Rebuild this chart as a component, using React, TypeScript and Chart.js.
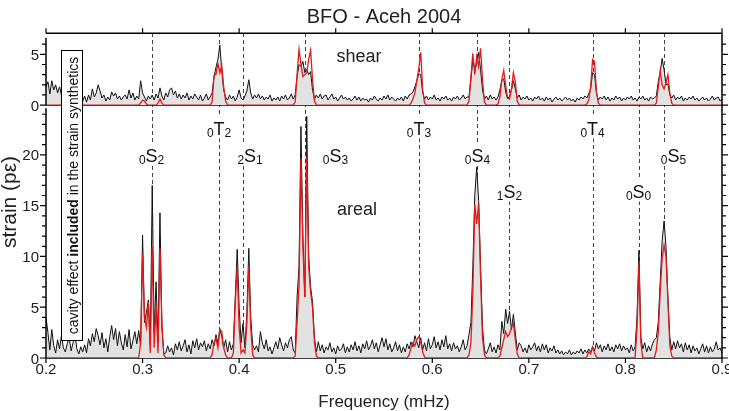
import { useEffect, useRef } from "react";
import { Chart, registerables } from "chart.js";

Chart.register(...registerables);

// Spectra are sampled on a regular frequency grid (mHz)
const FREQ_START = 0.2;
const FREQ_STEP = 0.002;

const xTicks = [0.2, 0.3, 0.4, 0.5, 0.6, 0.7, 0.8, 0.9];
const xTickLabels = ["0.2", "0.3", "0.4", "0.5", "0.6", "0.7", "0.8", "0.9"];
const shearTicks = [0, 5];
const shearTickLabels = ["0", "5"];
const arealTicks = [0, 5, 10, 15, 20];
const arealTickLabels = ["0", "5", "10", "15", "20"];

// Observed shear strain amplitude spectrum (pε), 0.200 .. 0.900 mHz
const shearObserved = [
  1.8, 2.3, 1.1, 2.4, 1.5, 2.0, 1.2, 1.8, 1.0, 0.8,
  1.2, 0.6, 1.0, 0.7, 1.1, 0.5, 0.9, 0.6, 0.8, 0.4,
  0.9, 0.3, 1.0, 0.5, 1.6, 0.8, 1.2, 2.0, 1.4, 0.7,
  1.0, 0.4, 0.8, 0.5, 1.3, 0.9, 1.2, 0.6, 0.9, 0.5,
  0.8, 1.0, 0.6, 1.5, 0.7, 1.2, 0.5, 0.9, 0.6, 2.4,
  1.2, 0.8, 0.4, 0.9, 0.6, 1.0, 0.5, 1.1, 0.7, 1.7,
  0.9, 0.5, 1.2, 0.8, 1.5, 1.7, 1.0, 1.4, 0.7, 1.1,
  0.6, 1.0, 0.7, 1.2, 0.5, 0.9, 0.6, 1.1, 0.8, 0.5,
  1.0, 0.4, 0.7, 1.1, 0.5, 0.8, 1.2, 2.8, 3.7, 4.5,
  5.9, 3.4, 1.5, 0.8, 0.5, 1.0, 0.6, 0.9, 0.4, 0.8,
  1.5, 0.7, 0.5, 0.9, 1.4, 2.5, 1.2, 0.6, 1.0, 0.7,
  1.1, 0.6, 0.9, 0.5, 0.8, 0.6, 1.0, 0.4, 0.7, 0.5,
  0.8, 0.4, 0.9, 0.6, 1.0, 0.5, 0.7, 1.1, 0.6, 1.0,
  2.8, 4.0, 3.8, 4.3, 3.2, 3.5, 3.0, 3.3, 1.5, 0.6,
  1.0, 0.7, 1.1, 0.6, 0.9, 1.0, 0.5, 0.8, 1.1, 0.6,
  0.8, 0.4, 0.7, 1.0, 0.6, 0.8, 0.5, 0.7, 0.4, 0.6,
  0.9, 0.5, 0.8, 0.4, 0.7, 0.5, 0.6, 0.3, 0.7, 0.5,
  0.9, 0.6, 0.4, 0.7, 0.5, 0.9, 0.6, 1.0, 0.5, 0.8,
  0.6, 0.4, 0.7, 0.5, 0.8, 0.4, 0.9, 0.6, 1.0, 1.1,
  1.3, 1.8, 2.4, 3.1, 3.0, 1.3, 0.6, 0.9, 0.5, 0.8,
  0.6, 1.0, 0.5, 0.7, 0.4, 0.8, 0.6, 0.9, 0.5, 0.7,
  0.4, 0.8, 0.6, 0.9, 0.5, 0.7, 1.0, 0.6, 0.8, 0.8,
  2.5, 4.6, 3.5, 4.0, 5.2, 3.5, 1.5, 0.6, 0.9, 0.5,
  1.0, 0.6, 0.8, 0.5, 0.8, 1.5, 2.4, 2.6, 1.3, 0.6,
  0.9, 1.5, 2.4, 1.6, 0.7, 1.0, 0.5, 0.8, 0.6, 0.9,
  0.5, 0.7, 0.4, 0.8, 0.6, 0.9, 0.5, 0.7, 0.4, 0.8,
  0.5, 0.7, 0.3, 0.6, 0.8, 0.5, 0.7, 0.4, 0.6, 0.8,
  0.5, 0.7, 0.4, 0.6, 0.3, 0.7, 0.5, 0.8, 0.6, 0.9,
  0.7, 1.1, 1.6, 3.2, 3.0, 1.2, 0.5, 0.8, 0.6, 0.9,
  0.5, 0.8, 0.4, 0.7, 0.5, 0.9, 0.6, 0.8, 0.4, 0.7,
  0.5, 0.8, 0.6, 0.9, 0.5, 0.7, 0.4, 0.8, 0.6, 0.9,
  0.5, 0.7, 0.4, 0.8, 0.6, 0.7, 0.9, 2.3, 3.2, 4.6,
  3.5, 2.0, 2.1, 1.0, 0.7, 1.0, 0.5, 0.8, 0.6, 0.9,
  0.4, 0.7, 0.5, 0.8, 0.6, 0.9, 0.5, 0.7, 0.4, 0.6,
  0.8, 0.5, 0.7, 0.4, 0.6, 0.9, 0.5, 0.7, 0.8, 0.4,
  0.6,
];

// Observed areal strain amplitude spectrum (pε), 0.200 .. 0.900 mHz
const arealObserved = [
  4.0, 2.5, 0.8, 2.8, 1.2, 0.5, 1.8, 0.9, 2.2, 1.0,
  0.6, 1.4, 2.0, 0.7, 1.5, 2.3, 0.9, 0.4, 1.1, 0.6,
  1.3, 0.5, 1.9, 1.2, 2.4, 1.6, 2.9, 2.2, 1.3, 2.5,
  1.0, 1.9, 0.6, 2.1, 3.2, 1.8, 2.9, 1.2, 2.6, 1.5,
  0.8, 2.3, 1.1, 2.8, 0.9, 1.7, 2.6, 1.4, 2.7, 1.2,
  12.1, 3.5, 4.5, 5.7, 1.2, 17.0, 2.5, 7.5, 1.5, 14.3,
  3.0, 0.4, 0.5, 1.2, 0.6, 1.0, 0.3, 1.4, 0.8, 1.6,
  0.7, 1.2, 1.8, 0.6, 1.3, 0.4, 1.7, 1.0, 1.9, 0.8,
  1.5, 1.1, 1.7, 0.7, 1.4, 0.9, 1.8, 1.2, 2.3, 1.5,
  2.9, 2.1, 1.0, 1.8, 0.6, 1.6, 0.8, 1.4, 6.0, 10.7,
  5.0, 1.5, 3.4, 1.0, 4.5, 10.8, 4.0, 1.3, 0.8, 1.2,
  0.6, 2.6, 1.5, 0.9, 1.8, 0.7, 1.1, 0.4, 1.0, 1.6,
  0.9, 2.0, 1.3, 0.7, 1.5, 1.0, 1.8, 2.1, 0.8, 0.5,
  6.0, 9.0, 22.8, 12.0, 6.0, 23.8, 10.0, 7.0, 5.5, 2.0,
  0.6, 1.6, 0.7, 1.3, 0.5, 1.1, 0.8, 1.5, 0.6, 1.0,
  0.4, 1.2, 0.7, 0.9, 1.4, 0.5, 1.1, 0.6, 1.3, 0.8,
  1.6, 0.7, 1.2, 0.5, 1.4, 0.9, 1.7, 0.8, 1.2, 1.8,
  0.9, 1.5, 0.6, 1.3, 2.0, 1.1, 1.9, 0.8, 1.4, 0.6,
  1.0, 1.6, 0.7, 1.3, 0.5, 1.1, 0.6, 1.4, 0.9, 1.6,
  1.1, 2.2, 1.6, 1.0, 2.0, 0.8, 1.5, 0.7, 1.9, 0.9,
  1.3, 2.1, 1.0, 1.6, 0.8, 1.8, 1.1, 2.2, 0.9, 1.4,
  0.7, 1.5, 0.9, 1.2, 0.6, 1.1, 1.8, 0.8, 1.2, 2.3,
  3.5, 9.0, 16.0, 18.8, 15.5, 9.0, 3.0, 0.8, 0.4, 0.9,
  1.5, 0.6, 1.1, 0.5, 1.3, 0.8, 3.6, 2.4, 4.8, 3.4,
  4.6, 2.8, 4.3, 2.5, 0.8, 1.5, 1.2, 0.6, 1.0, 0.5,
  1.3, 0.8, 1.1, 1.5, 0.7, 1.2, 0.6, 1.4, 0.8, 1.3,
  0.5, 1.0, 0.7, 1.2, 0.5, 0.8, 0.4, 0.7, 0.3, 0.6,
  0.4, 0.8, 0.3, 0.6, 0.4, 0.7, 0.5, 0.9, 0.4, 0.8,
  0.5, 0.9, 0.6, 1.1, 0.7, 1.5, 0.9, 1.3, 0.6, 1.2,
  0.8, 1.4, 0.7, 1.1, 0.6, 1.3, 0.9, 1.4, 0.7, 1.2,
  0.8, 1.0, 0.5, 1.3, 0.7, 1.1, 4.0, 10.6, 2.0, 0.9,
  1.5, 0.6, 1.2, 0.7, 1.4, 1.8, 2.0, 3.5, 7.5, 11.5,
  13.5, 11.0, 6.0, 2.0, 0.8, 1.6, 0.9, 1.7, 1.0, 1.4,
  0.6, 1.5, 0.8, 1.3, 0.5, 1.2, 0.7, 1.0, 0.4, 0.9,
  1.4, 0.6, 1.2, 0.5, 1.1, 0.6, 0.9, 1.6, 0.8, 1.0,
  0.5,
];

// Synthetic spectra: [first frequency, values on the same grid]; zero elsewhere
const shearSynthetic: [number, number[]][] = [
  [0.298, [0.2, 0.5, 0.4, 0.1]],
  [0.316, [0.2, 0.6, 0.2]],
  [0.372, [0.3, 2.9, 3.0, 4.1, 3.2, 3.9, 1.8, 0.4]],
  [0.458, [0.3, 3.0, 5.5, 4.0, 2.8, 3.0, 3.2, 4.5, 5.4, 2.5, 0.4]],
  [0.578, [0.2, 0.6, 1.2, 2.4, 3.6, 5.2, 1.6, 0.2]],
  [0.638, [0.4, 2.8, 5.1, 3.0, 4.8, 3.8, 5.6, 2.5, 0.3]],
  [0.668, [0.1, 0.8, 2.5, 3.4, 2.0, 0.7, 0.6, 1.6, 3.2, 2.3, 0.4]],
  [0.760, [0.1, 0.5, 1.8, 4.5, 4.3, 1.3, 0.2]],
  [0.832, [0.2, 1.8, 3.4, 2.0, 1.6, 2.2, 3.0, 1.2, 0.2]],
];

const arealSynthetic: [number, number[]][] = [
  [0.298, [1.5, 10.3, 4.0, 3.0, 5.5, 0.5, 11.0, 1.0, 5.1, 0.5, 10.8, 3.5, 0.3]],
  [0.372, [0.3, 1.5, 1.9, 1.0, 2.8, 2.6, 1.0, 0.3]],
  [0.394, [0.5, 5.5, 9.0, 3.0, 0.5, 0.8, 0.5, 3.5, 9.0, 3.0, 0.3]],
  [0.458, [0.2, 3.5, 7.0, 19.7, 11.0, 6.0, 19.7, 9.0, 6.5, 5.0, 1.5, 0.2]],
  [0.576, [0.3, 1.0, 1.5, 1.2, 1.8, 2.1, 1.6, 0.6, 0.1]],
  [0.638, [0.3, 1.5, 6.5, 15.1, 13.2, 15.2, 8.0, 2.0, 0.3]],
  [0.670, [0.2, 1.0, 1.8, 2.6, 2.1, 2.4, 3.0, 3.4, 1.8, 0.4]],
  [0.760, [0.1, 0.6, 0.4, 1.1, 0.5, 0.1]],
  [0.812, [3.0, 9.3, 1.5]],
  [0.832, [0.8, 2.5, 6.5, 9.8, 11.1, 10.0, 5.5, 1.2, 0.2]],
];

// Normal modes marked on the spectra
const modeFreqs = [0.3093, 0.3792, 0.4041, 0.4686, 0.5862, 0.6468, 0.6799, 0.766, 0.8136, 0.8404];
const modeOvertones = ["0", "0", "2", "0", "0", "0", "1", "0", "0", "0"];
const modeTypes = ["S", "T", "S", "S", "T", "S", "S", "T", "S", "S"];
const modeDegrees = ["2", "2", "1", "3", "3", "4", "2", "4", "0", "5"];
// label placement: horizontal shift (px) and baseline height on the areal axis
const modeLabelShift = [0, 0, 7, 30, 0, 0, 0, 0, 0, 9];
const modeLabelLevel = [19.3, 22.0, 19.3, 19.3, 22.0, 19.3, 15.8, 22.0, 15.8, 19.3];

const FONT = '"Liberation Sans", Arial, Helvetica, sans-serif';
const RED = "#e31a1c";
const FILL = "#e2e2e2";

const gridFreq = (i: number) => +(FREQ_START + i * FREQ_STEP).toFixed(4);
const toPoints = (vals: number[]) => vals.map((y, i) => ({ x: gridFreq(i), y }));
function synthPoints(stretches: [number, number[]][]) {
  const vals: number[] = new Array(arealObserved.length).fill(0);
  for (const [f0, v] of stretches) {
    const i0 = Math.round((f0 - FREQ_START) / FREQ_STEP);
    v.forEach((y, k) => {
      vals[i0 + k] = y;
    });
  }
  return toPoints(vals);
}

const decorations = {
  id: "decorations",
  beforeDatasetsDraw(chart: any) {
    const { ctx, chartArea: a, scales } = chart;
    const x = scales.x, ys = scales.ys, ya = scales.ya;
    ctx.save();

    // dashed lines at the mode frequencies
    ctx.strokeStyle = "#444";
    ctx.lineWidth = 1;
    ctx.setLineDash([4, 3]);
    modeFreqs.forEach((f) => {
      const px = Math.round(x.getPixelForValue(f)) + 0.5;
      ctx.beginPath();
      ctx.moveTo(px, a.top);
      ctx.lineTo(px, a.bottom);
      ctx.stroke();
    });
    ctx.setLineDash([]);

    // mode labels with a white backing that breaks the dashed lines
    modeFreqs.forEach((f, i) => {
      const cx = x.getPixelForValue(f) + modeLabelShift[i];
      const base = ya.getPixelForValue(modeLabelLevel[i]);
      ctx.font = `18px ${FONT}`;
      const wm = ctx.measureText(modeTypes[i]).width;
      ctx.font = `12px ${FONT}`;
      const wl = ctx.measureText(modeOvertones[i]).width;
      const wr = ctx.measureText(modeDegrees[i]).width;
      const left = cx - wm / 2 - wl;
      ctx.fillStyle = "#fff";
      ctx.fillRect(left - 2, base - 19, wl + wm + wr + 4, 23);
      ctx.fillStyle = "#111";
      ctx.textBaseline = "alphabetic";
      ctx.textAlign = "left";
      ctx.fillText(modeOvertones[i], left, base + 2);
      ctx.fillText(modeDegrees[i], cx + wm / 2, base + 2);
      ctx.font = `18px ${FONT}`;
      ctx.fillText(modeTypes[i], cx - wm / 2, base);
    });

    // frame lines under the data
    ctx.strokeStyle = "#000";
    ctx.lineWidth = 1.5;
    const yTop = a.top + 0.25;
    const yS0 = ys.getPixelForValue(0);
    const yA0 = ya.getPixelForValue(0);
    [yTop, yS0, yA0].forEach((yy) => {
      ctx.beginPath();
      ctx.moveTo(a.left, yy);
      ctx.lineTo(a.right, yy);
      ctx.stroke();
    });
    // frequency ticks: upward on top, downward at the bottom
    ctx.lineWidth = 1.2;
    xTicks.forEach((t) => {
      const px = x.getPixelForValue(t);
      ctx.beginPath();
      ctx.moveTo(px, yTop);
      ctx.lineTo(px, yTop - 5);
      ctx.moveTo(px, yA0);
      ctx.lineTo(px, yA0 + 5);
      ctx.stroke();
    });
    ctx.restore();
  },
  afterDatasetsDraw(chart: any) {
    const { ctx, chartArea: a, scales } = chart;
    const x = scales.x, ys = scales.ys, ya = scales.ya;
    ctx.save();

    // vertical axes with outward ticks
    ctx.strokeStyle = "#000";
    ctx.lineWidth = 1.5;
    const vline = (px: number, y0: number, y1: number) => {
      ctx.beginPath();
      ctx.moveTo(px, y0);
      ctx.lineTo(px, y1);
      ctx.stroke();
    };
    vline(a.left, ys.getPixelForValue(6.6), ys.getPixelForValue(0));
    vline(a.left, ya.getPixelForValue(24.6), ya.getPixelForValue(0));
    vline(a.right, a.top, a.bottom);

    ctx.lineWidth = 1.2;
    const yTicks = (scale: any, max: number, majors: number[]) => {
      for (let v = 0; v <= max; v++) {
        const py = scale.getPixelForValue(v);
        const len = majors.includes(v) ? 6 : 4;
        ctx.beginPath();
        ctx.moveTo(a.left, py);
        ctx.lineTo(a.left - len, py);
        ctx.moveTo(a.right, py);
        ctx.lineTo(a.right + len, py);
        ctx.stroke();
      }
    };
    yTicks(ys, 6, shearTicks);
    yTicks(ya, 24, arealTicks);

    // tick labels
    ctx.fillStyle = "#222";
    ctx.font = `15px ${FONT}`;
    ctx.textAlign = "right";
    ctx.textBaseline = "alphabetic";
    shearTicks.forEach((t, i) => ctx.fillText(shearTickLabels[i], a.left - 7, ys.getPixelForValue(t) + 5.5));
    arealTicks.forEach((t, i) => ctx.fillText(arealTickLabels[i], a.left - 7, ya.getPixelForValue(t) + 5.5));
    ctx.textAlign = "center";
    const yA0 = ya.getPixelForValue(0);
    xTicks.forEach((t, i) => ctx.fillText(xTickLabels[i], x.getPixelForValue(t), yA0 + 16));

    // panel names
    ctx.font = `18px ${FONT}`;
    ctx.fillText("shear", x.getPixelForValue(0.524), ys.getPixelForValue(4.2));
    ctx.fillText("areal", x.getPixelForValue(0.522), ya.getPixelForValue(14.1));

    // titles
    ctx.font = `20px ${FONT}`;
    ctx.fillText("BFO - Aceh 2004", (a.left + a.right) / 2, 23);
    ctx.font = `17px ${FONT}`;
    ctx.fillText("Frequency (mHz)", (a.left + a.right) / 2, 407);
    ctx.save();
    ctx.translate(16, 202);
    ctx.rotate(-Math.PI / 2);
    ctx.font = `21px ${FONT}`;
    ctx.fillText("strain (pε)", 0, 0);
    ctx.restore();

    // boxed note about the synthetics
    const bx = a.left + 15.5, bw = 21, by0 = 50.5, by1 = 340.5;
    ctx.fillStyle = "#fff";
    ctx.fillRect(bx, by0, bw, by1 - by0);
    ctx.strokeStyle = "#000";
    ctx.lineWidth = 1;
    ctx.strokeRect(bx, by0, bw, by1 - by0);
    const parts: [string, boolean][] = [
      ["cavity effect ", false],
      ["included", true],
      [" in the strain synthetics", false],
    ];
    const fontOf = (b: boolean) => `${b ? "bold " : ""}14px ${FONT}`;
    let total = 0;
    parts.forEach(([s, b]) => {
      ctx.font = fontOf(b);
      total += ctx.measureText(s).width;
    });
    ctx.translate(bx + 16, (by0 + by1) / 2);
    ctx.rotate(-Math.PI / 2);
    ctx.fillStyle = "#111";
    ctx.textAlign = "left";
    let pos = -total / 2;
    parts.forEach(([s, b]) => {
      ctx.font = fontOf(b);
      ctx.fillText(s, pos, 0);
      pos += ctx.measureText(s).width;
    });
    ctx.restore();
  },
};

export default function App() {
  const ref = useRef<HTMLCanvasElement>(null);
  useEffect(() => {
    const line = (data: any, yAxisID: string, observed: boolean) => ({
      data,
      yAxisID,
      xAxisID: "x",
      borderColor: observed ? "#111" : RED,
      borderWidth: observed ? 1 : 1.3,
      backgroundColor: observed ? FILL : RED,
      fill: observed ? "origin" : false,
      pointRadius: 0,
      tension: 0,
      order: observed ? 2 : 1,
    });
    const chart = new Chart(ref.current as HTMLCanvasElement, {
      type: "line",
      data: {
        datasets: [
          line(toPoints(arealObserved), "ya", true),
          line(synthPoints(arealSynthetic), "ya", false),
          line(toPoints(shearObserved), "ys", true),
          line(synthPoints(shearSynthetic), "ys", false),
        ],
      },
      options: {
        animation: false,
        responsive: false,
        devicePixelRatio: 1,
        layout: { padding: { left: 46, right: 7, top: 33, bottom: 53 } },
        plugins: { legend: { display: false }, tooltip: { enabled: false } },
        scales: {
          x: { type: "linear", min: 0.2, max: 0.9, display: false },
          ya: { type: "linear", position: "left", min: 0, max: 24.9, display: false, stack: "panels", stackWeight: 24.9 },
          ys: { type: "linear", position: "left", min: 0, max: 7.1, display: false, stack: "panels", stackWeight: 7.1 },
        },
      } as any,
      plugins: [decorations],
    });
    return () => chart.destroy();
  }, []);
  return (
    <div style={{ position: "absolute", left: 0, top: 0, width: 729, height: 411, background: "#fff" }}>
      <canvas ref={ref} width={729} height={411} style={{ display: "block" }} />
    </div>
  );
}
